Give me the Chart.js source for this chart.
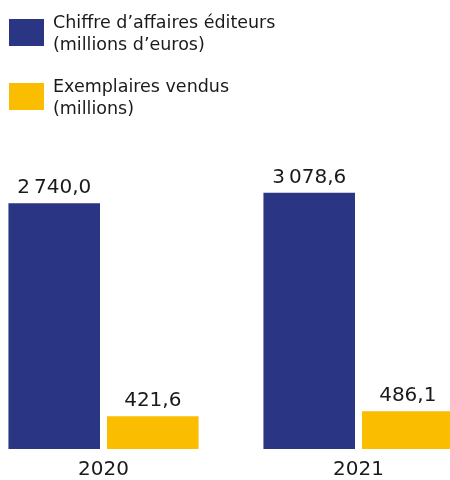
<!DOCTYPE html>
<html><head><meta charset="utf-8">
<script src="https://cdn.jsdelivr.net/npm/chart.js@4/dist/chart.umd.min.js"></script>
<style>
html,body{margin:0;padding:0;background:#fff;overflow:hidden;width:450px;height:480px;position:relative;}
#wrap{position:absolute;left:-24px;top:0;width:510px;height:499px;}
</style></head><body>
<div id="wrap"><canvas id="c"></canvas></div>
<script>
const categories = ['2020', '2021'];
const seriesLabels = [["Chiffre d’affaires éditeurs", "(millions d’euros)"], ["Exemplaires vendus", "(millions)"]];
const chiffreAffaires = [2740.0, 3078.6];
const exemplairesVendus = [421.6, 486.1];
const seriesColors = ['#2a3584', '#fbbd00'];

const FONT = '"DejaVu Sans", sans-serif';
const TEXT = '#1a1a1a';
const OFFSET = 24;
const BLUE_MIN = -5107;

function fmt(v) {
  const parts = v.toFixed(1).split('.');
  return parts[0].replace(/\B(?=(\d{3})+(?!\d))/g, '\u202F') + ',' + parts[1];
}

const valueLabels = {
  id: 'valueLabels',
  afterDatasetsDraw(chart) {
    const ctx = chart.ctx;
    ctx.save();
    ctx.font = '20px ' + FONT;
    ctx.fillStyle = TEXT;
    ctx.textAlign = 'center';
    ctx.textBaseline = 'alphabetic';
    chart.data.datasets.forEach((ds, i) => {
      chart.getDatasetMeta(i).data.forEach((bar, j) => {
        ctx.fillText(fmt(ds.data[j]), bar.x, bar.y - 10);
      });
    });
    ctx.restore();
  }
};

const sideLegend = {
  id: 'sideLegend',
  afterDraw(chart) {
    const ctx = chart.ctx;
    ctx.save();
    ctx.font = '17.5px ' + FONT;
    ctx.textAlign = 'left';
    ctx.textBaseline = 'alphabetic';
    chart.data.datasets.forEach((ds, i) => {
      const top = 19 + i * 64;
      ctx.fillStyle = ds.backgroundColor;
      ctx.fillRect(OFFSET + 9, top, 35, 27);
      ctx.fillStyle = TEXT;
      ds.label.forEach((line, k) => {
        ctx.fillText(line, OFFSET + 53, top + 9 + k * 22);
      });
    });
    ctx.restore();
  }
};

new Chart(document.getElementById('c'), {
  type: 'bar',
  data: {
    labels: categories,
    datasets: [
      { label: seriesLabels[0], data: chiffreAffaires, backgroundColor: seriesColors[0], yAxisID: 'y',
        base: BLUE_MIN, barPercentage: 0.929, categoryPercentage: 0.773 },
      { label: seriesLabels[1], data: exemplairesVendus, backgroundColor: seriesColors[1], yAxisID: 'y1',
        barPercentage: 0.929, categoryPercentage: 0.773 }
    ]
  },
  options: {
    responsive: true,
    maintainAspectRatio: false,
    animation: false,
    layout: { padding: { top: 170, bottom: 8, left: 0, right: 0 } },
    plugins: { legend: { display: false }, tooltip: { enabled: false } },
    scales: {
      x: {
        grid: { display: false, drawTicks: false },
        border: { display: false },
        ticks: { font: { family: FONT, size: 20 }, color: TEXT, padding: 9 }
      },
      y: { display: false, min: BLUE_MIN, max: 3804 },
      y1: { display: false, min: 0, max: 3600 }
    }
  },
  plugins: [valueLabels, sideLegend]
});
</script>
</body></html>
